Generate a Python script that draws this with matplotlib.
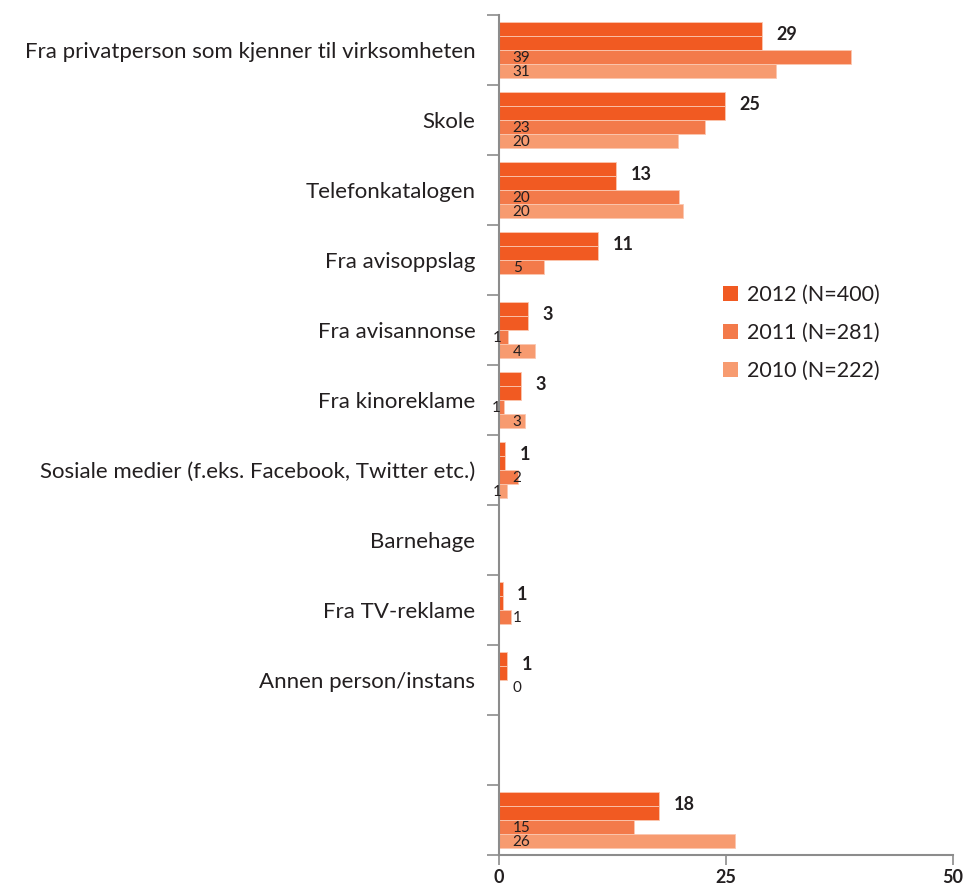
import matplotlib
matplotlib.use("Agg")
import matplotlib.pyplot as plt
import numpy as np
from matplotlib.patches import Patch

plt.rcParams['font.family'] = ['Lato', 'DejaVu Sans']

categories = [
    "Fra privatperson som kjenner til virksomheten",
    "Skole",
    "Telefonkatalogen",
    "Fra avisoppslag",
    "Fra avisannonse",
    "Fra kinoreklame",
    "Sosiale medier (f.eks. Facebook, Twitter etc.)",
    "Barnehage",
    "Fra TV-reklame",
    "Annen person/instans",
    "",
    "",
]
series_names = ["2012 (N=400)", "2011 (N=281)", "2010 (N=222)"]
v2012 = [29.0, 24.9, 12.9, 10.9, 3.2, 2.4, 0.7, None, 0.4, 0.9, None, 17.6]
v2011 = [38.8, 22.7, 19.8, 5.0, 1.0, 0.6, 2.05, None, 1.3, 0.0, None, 14.9]
v2010 = [30.5, 19.7, 20.3, None, 3.96, 2.9, 0.9, None, None, None, None, 26.0]
lab2012 = ["29", "25", "13", "11", "3", "3", "1", "", "1", "1", "", "18"]
lab2011 = ["39", "23", "20", "5", "1", "1", "2", "", "1", "0", "", "15"]
lab2010 = ["31", "20", "20", "", "4", "3", "1", "", "", "", "", "26"]

colors = ["#f15a22", "#f37a4a", "#f79b70"]

fig = plt.figure(figsize=(9.65, 8.88), dpi=100)
ax = fig.add_axes([499/965, 1-855/888, (953-499)/965, (855-15)/888])

n = len(categories)
y = np.arange(n)
h = 0.2
edge = "#fbc7b0"

def vals(v):
    return [0 if x is None else x for x in v]

for off in (-0.3, -0.1):
    ax.barh(y + off, vals(v2012), height=h, color=colors[0], edgecolor=edge, linewidth=0.6)
ax.barh(y + 0.1, vals(v2011), height=h, color=colors[1], edgecolor=edge, linewidth=0.6)
ax.barh(y + 0.3, vals(v2010), height=h, color=colors[2], edgecolor=edge, linewidth=0.6)

for p in ax.patches:
    if p.get_width() == 0:
        p.set_visible(False)

txtc = "#231f20"
for i in range(n):
    if lab2012[i]:
        ax.text(v2012[i] + 1.6, i - 0.22, lab2012[i], fontsize=13, fontweight="bold",
                color=txtc, va="center", ha="left")
    for lab, val, off in ((lab2011[i], v2011[i], 0.1), (lab2010[i], v2010[i], 0.3)):
        if not lab:
            continue
        if 0.5 < val < 1.2:
            ax.text(val * 0.3, i + off + 0.02, lab, fontsize=11, color=txtc, va="center", ha="right")
        elif val < 1.5 and lab in ("1", "0"):
            ax.text(max(val, 1.5), i + off + 0.02, lab, fontsize=11, color=txtc, va="center", ha="left")
        else:
            ax.text(1.5, i + off + 0.02, lab, fontsize=11, color=txtc, va="center", ha="left")

ax.set_ylim(n - 0.5, -0.5)
ax.set_xlim(0, 50)
ax.set_xticks([0, 25, 50])
ax.set_xticklabels(["0", "25", "50"], fontsize=13, fontweight="bold", color=txtc)
ax.set_yticks(y)
ax.set_yticklabels(categories, fontsize=16, color=txtc)
ax.set_yticks(np.arange(-0.5, n, 1.0), minor=True)
ax.tick_params(axis="y", which="major", length=0, pad=17)
ax.tick_params(axis="y", which="minor", length=9, width=1.2, color="#8c8c8c", direction="out")
ax.tick_params(axis="x", which="major", length=7, width=1.2, color="#8c8c8c", direction="out", pad=3)

for s in ("top", "right"):
    ax.spines[s].set_visible(False)
for s in ("left", "bottom"):
    ax.spines[s].set_color("#8c8c8c")
    ax.spines[s].set_linewidth(1.5)

handles = [Patch(facecolor=c, edgecolor="none") for c in colors]
leg = ax.legend(handles, series_names, loc="center left",
                bbox_to_anchor=((722-499)/(953-499) - 0.04, 1-(333-15)/(840)),
                frameon=False, fontsize=15.5, handlelength=0.7, handleheight=0.7, labelspacing=0.85,
                handletextpad=0.4)
for t in leg.get_texts():
    t.set_color(txtc)

fig.savefig("out.png", dpi=100)
